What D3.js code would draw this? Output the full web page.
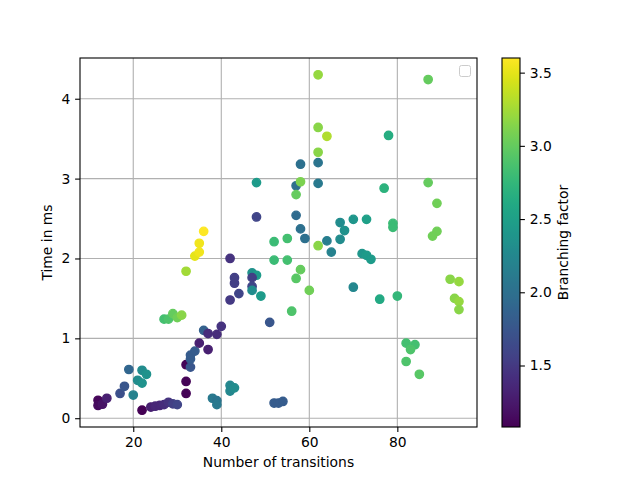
<!DOCTYPE html>
<html><head><meta charset="utf-8">
<script src="https://cdn.jsdelivr.net/npm/d3@7"></script>
<style>body{margin:0;background:#fff}svg{display:block}text{font-family:"DejaVu Sans",sans-serif}</style>
</head><body>
<svg id="c" width="640" height="480"></svg>
<script>
const transitions = [12,12,13,14,17,18,19,20,22,23,21,22,22,24,25,26,27,28,29,30,
 32,32,32,33,33,33,34,35,37,36,37,39,40,42,27,28,29,30,31,32,34,35,35,36,42,43,43,44,
 38,39,39,42,42,43,52,53,54,51,48,48,47,48,47,47,47,49,52,55,52,55,56,57,58,60,
 57,58,59,57,58,57,58,62,62,62,62,64,62,62,64,65,67,68,67,70,73,72,73,74,70,76,80,
 78,77,79,79,87,87,89,89,88,92,94,93,94,94,82,84,83,82,85];
const timeMs = [0.225,0.16,0.175,0.25,0.31,0.40,0.61,0.29,0.60,0.55,0.475,0.44,0.10,0.14,0.15,0.16,0.17,0.20,0.18,0.17,
 0.31,0.46,0.67,0.64,0.74,0.79,0.84,0.94,0.86,1.10,1.06,1.05,1.15,1.48,1.24,1.24,1.31,1.26,1.29,1.84,2.03,2.08,2.19,2.34,2.00,1.76,1.69,1.56,
 0.25,0.22,0.17,0.41,0.34,0.38,0.19,0.19,0.21,1.20,2.52,2.95,1.82,1.79,1.76,1.65,1.60,1.53,2.21,2.25,1.98,1.98,1.34,1.75,1.86,1.60,
 2.54,2.37,2.25,2.91,2.96,2.80,3.18,3.20,2.94,3.33,3.64,3.53,4.30,2.16,2.22,2.08,2.45,2.35,2.24,2.49,2.49,2.06,2.04,1.99,1.64,1.49,1.53,
 3.54,2.88,2.44,2.39,4.24,2.95,2.69,2.34,2.28,1.74,1.71,1.50,1.46,1.36,0.94,0.92,0.86,0.71,0.55];
const branching = [1.12,1.15,1.2,1.3,1.7,1.75,1.9,2.2,2.3,2.35,2.3,2.35,1.08,1.3,1.35,1.35,1.4,1.45,1.55,1.6,
 1.1,1.1,1.1,1.75,1.8,1.8,1.8,1.3,1.3,1.85,1.4,1.4,1.45,1.5,2.85,2.9,3.0,3.05,3.15,3.25,3.5,3.55,3.55,3.6,1.45,1.55,1.55,1.6,
 2.1,2.05,2.1,2.25,2.25,2.3,1.8,1.8,1.8,1.75,1.6,2.45,2.35,2.45,1.55,1.6,2.3,2.45,2.8,2.85,2.8,2.85,2.9,2.95,3.0,3.05,
 1.95,2.0,2.0,2.0,3.1,3.0,2.0,2.05,2.1,3.15,3.15,3.3,3.2,3.15,2.15,2.2,2.3,2.35,2.3,2.4,2.5,2.4,2.45,2.45,2.25,2.6,2.75,
 2.65,2.7,2.8,2.8,3.0,3.0,3.05,3.05,3.05,3.15,3.2,3.15,3.2,3.15,2.85,2.85,2.9,2.9,2.95];
const xTicks = [20,40,60,80];
const yTicks = [0,1,2,3,4];
const cTicks = [1.5,2.0,2.5,3.0,3.5];
const xLabel = "Number of transitions";
const yLabel = "Time in ms";
const cLabel = "Branching factor";

const svg = d3.select("#c");
const L=80,T=58,W=397,H=369;
const fs = 13.89;
function padded(a){const e=d3.extent(a);const r=e[1]-e[0];return [e[0]-0.05*r,e[1]+0.05*r];}
const x = d3.scaleLinear().domain(padded(transitions)).range([L,L+W]);
const y = d3.scaleLinear().domain(padded(timeMs)).range([T+H,T]);
const cExt = d3.extent(branching);
const color = d3.scaleSequential(d3.interpolateViridis).domain(cExt);

const g = svg.append("g");
// grid
g.selectAll(".gx").data(xTicks).join("line").attr("x1",d=>x(d)).attr("x2",d=>x(d)).attr("y1",T).attr("y2",T+H)
 .attr("stroke","#b0b0b0").attr("stroke-width",1.1);
g.selectAll(".gy").data(yTicks).join("line").attr("class","gy").attr("y1",d=>y(d)).attr("y2",d=>y(d)).attr("x1",L).attr("x2",L+W)
 .attr("stroke","#b0b0b0").attr("stroke-width",1.1);

// points
const pts = transitions.map((t,i)=>({x:t,y:timeMs[i],c:branching[i]}));
g.selectAll("circle").data(pts).join("circle").attr("cx",d=>x(d.x)).attr("cy",d=>y(d.y)).attr("r",4.17)
 .attr("fill",d=>color(d.c)).attr("stroke",d=>color(d.c)).attr("stroke-width",1.39);

// axes
const xa = svg.append("g").attr("transform",`translate(0,${T+H})`)
 .call(d3.axisBottom(x).tickValues(xTicks).tickSize(4.9).tickPadding(4.9).tickFormat(d3.format("d")));
const ya = svg.append("g").attr("transform",`translate(${L},0)`)
 .call(d3.axisLeft(y).tickValues(yTicks).tickSize(4.9).tickPadding(4.9).tickFormat(d3.format("d")));
[xa,ya].forEach(a=>{a.select(".domain").remove();a.selectAll("text").attr("font-size",fs).attr("font-family","DejaVu Sans").attr("fill","#000");
 a.selectAll("line").attr("stroke","#000").attr("stroke-width",1.1);});
svg.append("rect").attr("x",L).attr("y",T).attr("width",W).attr("height",H).attr("fill","none").attr("stroke","#000").attr("stroke-width",1.1);

// empty legend box
svg.append("rect").attr("x",459.5).attr("y",65.5).attr("width",11).attr("height",11).attr("rx",2)
 .attr("fill","#fff").attr("fill-opacity",0.8).attr("stroke","#cccccc").attr("stroke-width",1);

svg.append("text").attr("x",L+W/2).attr("y",467).attr("text-anchor","middle").attr("font-size",fs).text(xLabel);
svg.append("text").attr("transform",`translate(52,${T+H/2}) rotate(-90)`).attr("text-anchor","middle").attr("font-size",fs).text(yLabel);

// colorbar
const CX=502,CW=18;
const cy = d3.scaleLinear().domain(cExt).range([T+H,T]);
const defs = svg.append("defs");
const grad = defs.append("linearGradient").attr("id","vg").attr("x1",0).attr("x2",0).attr("y1",1).attr("y2",0);
d3.range(0,1.0001,0.02).forEach(t=>grad.append("stop").attr("offset",t).attr("stop-color",d3.interpolateViridis(t)));
svg.append("rect").attr("x",CX).attr("y",T).attr("width",CW).attr("height",H).attr("fill","url(#vg)");
svg.append("rect").attr("x",CX).attr("y",T).attr("width",CW).attr("height",H).attr("fill","none").attr("stroke","#000").attr("stroke-width",1.1);
const ca = svg.append("g").attr("transform",`translate(${CX+CW},0)`)
 .call(d3.axisRight(cy).tickValues(cTicks).tickSize(4.9).tickPadding(4.9).tickFormat(d3.format(".1f")));
ca.select(".domain").remove();
ca.selectAll("text").attr("font-size",fs).attr("font-family","DejaVu Sans").attr("fill","#000");
ca.selectAll("line").attr("stroke","#000").attr("stroke-width",1.1);
svg.append("text").attr("transform",`translate(568,${T+H/2}) rotate(-90)`).attr("text-anchor","middle").attr("font-size",fs).text(cLabel);
</script>
</body></html>
